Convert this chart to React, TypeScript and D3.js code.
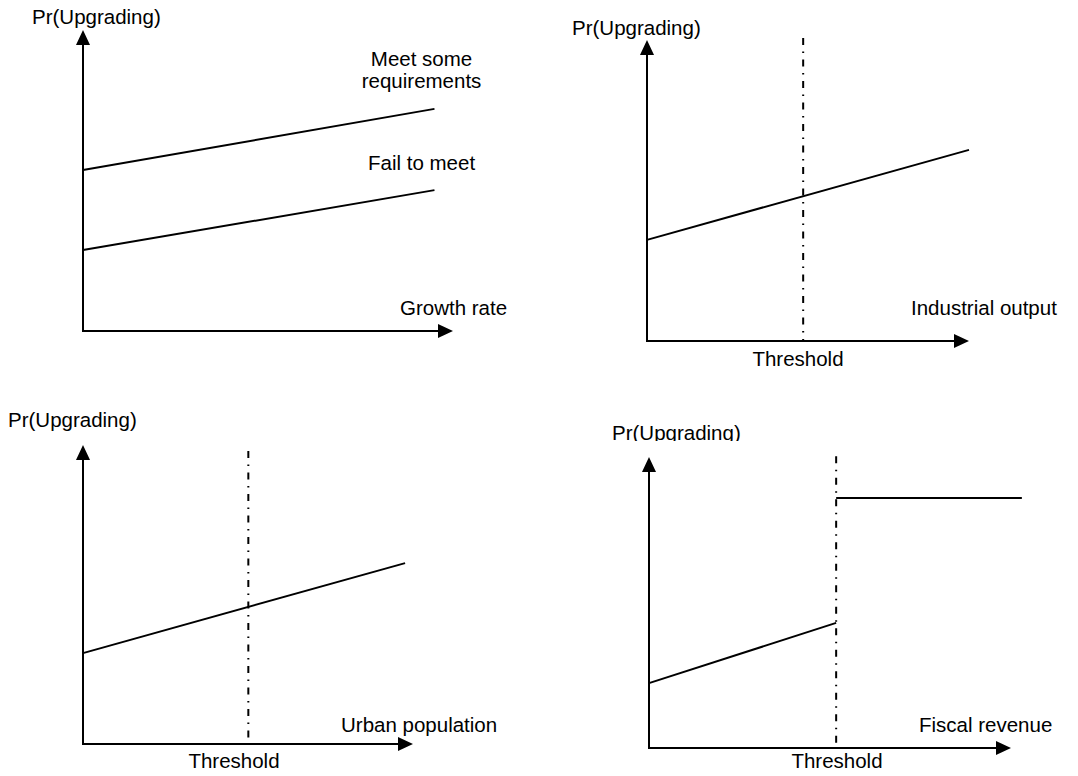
import React from "react";
import * as d3 from "d3";

// ---------- data (abstract units, 0..100 on both axes) ----------
const yAxisLabel = "Pr(Upgrading)";
const xAxisLabels = ["Growth rate", "Industrial output", "Urban population", "Fiscal revenue"];
const thresholdLabel = "Threshold";

// panel 1: two series
const meetSomeLine = [
  { x: 0, y: 53.5 },
  { x: 95, y: 73.8 },
];
const failToMeetLine = [
  { x: 0, y: 26.9 },
  { x: 95, y: 46.8 },
];
const seriesLabelMeet = ["Meet some", "requirements"];
const seriesLabelFail = ["Fail to meet"];

// panel 2
const industrialLine = [
  { x: 0, y: 33.6 },
  { x: 100, y: 63.5 },
];
const industrialThreshold = 48.5;

// panel 3
const urbanLine = [
  { x: 0, y: 30.4 },
  { x: 97.6, y: 60.5 },
];
const urbanThreshold = 50.1;

// panel 4 (discontinuous)
const fiscalLowerLine = [
  { x: 0, y: 22.3 },
  { x: 51.7, y: 43 },
];
const fiscalUpperLine = [
  { x: 51.7, y: 85.9 },
  { x: 103, y: 85.9 },
];
const fiscalThreshold = 51.7;

// ---------- layout ----------
type Pt = { x: number; y: number };
type Panel = {
  ox: number; oy: number; xTip: number; yTip: number;
  xLabel: string; xLabelPos: [number, number];
  yLabelPos: [number, number]; yLabelClip?: number;
  lines: Pt[][];
  threshold?: number; thresholdTop?: number; thresholdLabelPos?: [number, number];
};

const panels: Panel[] = [
  {
    ox: 83, oy: 331, xTip: 453, yTip: 30,
    xLabel: xAxisLabels[0], xLabelPos: [400, 315],
    yLabelPos: [32, 24],
    lines: [meetSomeLine, failToMeetLine],
  },
  {
    ox: 647, oy: 341, xTip: 969, yTip: 40,
    xLabel: xAxisLabels[1], xLabelPos: [911, 315],
    yLabelPos: [572, 35],
    lines: [industrialLine],
    threshold: industrialThreshold, thresholdTop: 100.7, thresholdLabelPos: [798, 366],
  },
  {
    ox: 83, oy: 744, xTip: 413, yTip: 445,
    xLabel: xAxisLabels[2], xLabelPos: [341, 732],
    yLabelPos: [8, 427],
    lines: [urbanLine],
    threshold: urbanThreshold, thresholdTop: 98, thresholdLabelPos: [234, 768],
  },
  {
    ox: 649, oy: 748, xTip: 1011, yTip: 457,
    xLabel: xAxisLabels[3], xLabelPos: [919, 732],
    yLabelPos: [612, 440], yLabelClip: 441,
    lines: [fiscalLowerLine, fiscalUpperLine],
    threshold: fiscalThreshold, thresholdTop: 100.3, thresholdLabelPos: [837, 768],
  },
];

const FONT = "'Liberation Sans', Arial, sans-serif";
const FS = 20.5;
const SW = 2;
const AH = 15; // arrow length
const AW = 7;  // arrow half-width

function PanelView({ p, idx }: { p: Panel; idx: number }) {
  const xs = d3.scaleLinear().domain([0, 100]).range([p.ox, p.xTip]);
  const ys = d3.scaleLinear().domain([0, 100]).range([p.oy, p.yTip]);
  const line = d3.line<Pt>().x((d) => xs(d.x)).y((d) => ys(d.y));
  const clipId = `clip-ylabel-${idx}`;
  return (
    <g>
      {p.yLabelClip !== undefined && (
        <defs>
          <clipPath id={clipId}>
            <rect x={0} y={0} width={1078} height={p.yLabelClip} />
          </clipPath>
        </defs>
      )}
      {/* axes */}
      <line x1={p.ox} y1={p.oy} x2={p.ox} y2={p.yTip + AH} stroke="#000" strokeWidth={SW} />
      <path d={`M${p.ox},${p.yTip} L${p.ox - AW},${p.yTip + AH} L${p.ox + AW},${p.yTip + AH} Z`} fill="#000" />
      <line x1={p.ox - 1} y1={p.oy} x2={p.xTip - AH} y2={p.oy} stroke="#000" strokeWidth={SW} />
      <path d={`M${p.xTip},${p.oy} L${p.xTip - AH},${p.oy - AW} L${p.xTip - AH},${p.oy + AW} Z`} fill="#000" />

      {/* threshold */}
      {p.threshold !== undefined && (
        <line
          x1={xs(p.threshold)} y1={ys(p.thresholdTop!)} x2={xs(p.threshold)} y2={p.oy}
          stroke="#000" strokeWidth={2} strokeDasharray="7,6.5,1.5,6.5"
        />
      )}

      {/* data lines */}
      {p.lines.map((l, i) => (
        <path key={i} d={line(l) || ""} fill="none" stroke="#000" strokeWidth={SW} />
      ))}

      {/* labels */}
      <text x={p.yLabelPos[0]} y={p.yLabelPos[1]} fontFamily={FONT} fontSize={FS}
        clipPath={p.yLabelClip !== undefined ? `url(#${clipId})` : undefined}>{yAxisLabel}</text>
      <text x={p.xLabelPos[0]} y={p.xLabelPos[1]} fontFamily={FONT} fontSize={FS}>{p.xLabel}</text>
      {p.thresholdLabelPos && (
        <text x={p.thresholdLabelPos[0]} y={p.thresholdLabelPos[1]} fontFamily={FONT} fontSize={FS}
          textAnchor="middle">{thresholdLabel}</text>
      )}
      {idx === 0 && (
        <g fontFamily={FONT} fontSize={FS} textAnchor="middle">
          <text x={xs(91.5)} y={66}>{seriesLabelMeet[0]}</text>
          <text x={xs(91.5)} y={88}>{seriesLabelMeet[1]}</text>
          <text x={xs(91.5)} y={170}>{seriesLabelFail[0]}</text>
        </g>
      )}
    </g>
  );
}

export default function App() {
  return (
    <svg width={1078} height={776} style={{ position: "absolute", left: 0, top: 0, background: "#fff" }}>
      <rect x={0} y={0} width={1078} height={776} fill="#fff" />
      {panels.map((p, i) => (
        <PanelView key={i} p={p} idx={i} />
      ))}
    </svg>
  );
}
